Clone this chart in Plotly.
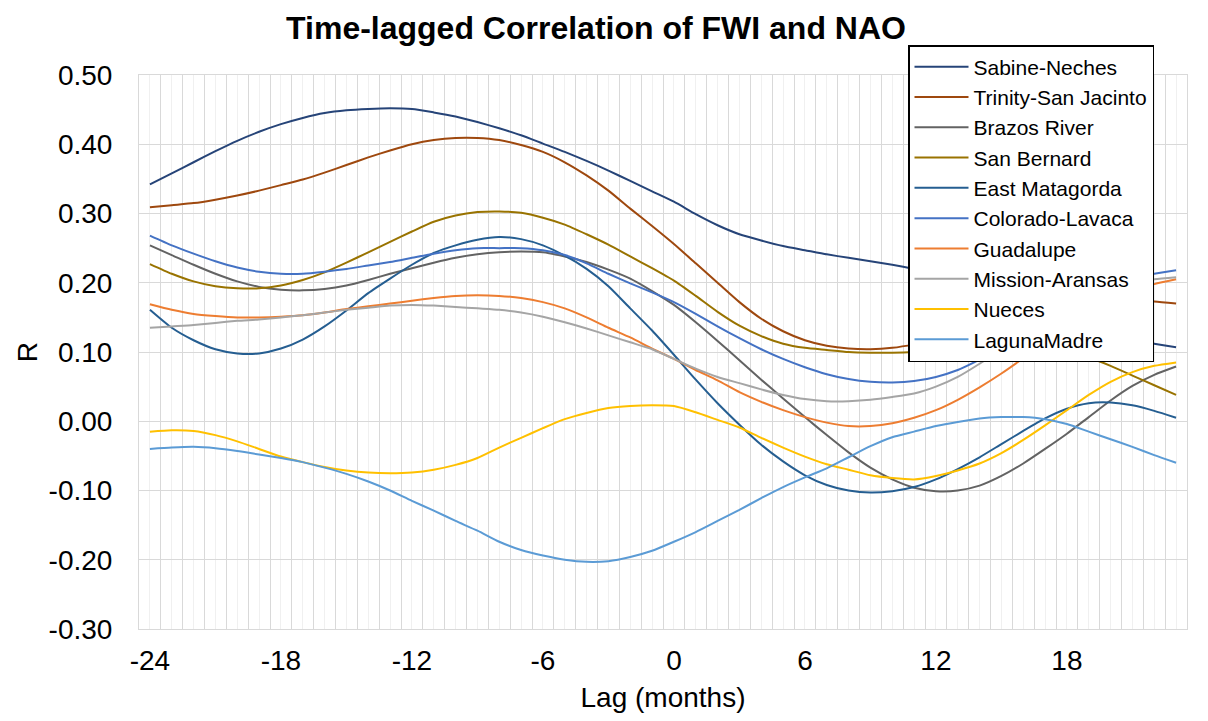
import plotly.graph_objects as go

lags = list(range(-24, 24))
tick_lags = [-24, -18, -12, -6, 0, 6, 12, 18]
r_ticks = [-0.30, -0.20, -0.10, 0.00, 0.10, 0.20, 0.30, 0.40, 0.50]

series_names = ["Sabine-Neches", "Trinity-San Jacinto", "Brazos River", "San Bernard",
                "East Matagorda", "Colorado-Lavaca", "Guadalupe", "Mission-Aransas",
                "Nueces", "LagunaMadre"]

sabine_neches = [.342, .358, .374, .390, .405, .418, .429, .438, .445, .449, .451, .452,
                 .451, .446, .440, .432, .423, .413, .401, .389, .376, .362, .347, .332,
                 .317, .299, .283, .270, .261, .253, .247, .241, .236, .231, .226, .220,
                 .213, .205, .196, .186, .175, .163, .151, .139, .128, .119, .112, .107]
trinity_san_jacinto = [.309, .312, .315, .320, .326, .333, .341, .349, .359, .370, .381, .391,
                       .400, .406, .409, .409, .406, .399, .389, .374, .355, .333, .307, .282,
                       .256, .228, .200, .172, .148, .130, .117, .109, .105, .104, .106, .111,
                       .118, .126, .134, .142, .150, .158, .165, .170, .173, .174, .173, .170]
brazos_river = [.254, .240, .226, .213, .202, .194, .190, .189, .191, .196, .204, .213,
                .221, .229, .236, .241, .244, .245, .244, .238, .230, .219, .206, .188,
                .168, .143, .116, .088, .060, .033, .006, -.020, -.045, -.067, -.084, -.096,
                -.101, -.100, -.093, -.079, -.061, -.040, -.018, .006, .030, .051, .067, .079]
san_bernard = [.227, .213, .202, .195, .192, .192, .196, .204, .215, .229, .244, .259,
               .274, .288, .297, .302, .303, .301, .294, .284, .270, .255, .238, .221,
               .203, .181, .158, .138, .123, .112, .106, .103, .100, .099, .099, .100,
               .102, .103, .105, .106, .107, .106, .100, .092, .080, .066, .052, .038]
east_matagorda = [.161, .135, .117, .104, .098, .098, .105, .118, .137, .160, .185, .206,
                  .226, .243, .254, .262, .266, .263, .254, .239, .220, .195, .163, .131,
                  .096, .060, .026, -.005, -.034, -.058, -.078, -.092, -.100, -.103, -.101, -.095,
                  -.084, -.069, -.052, -.033, -.014, .004, .018, .026, .027, .023, .015, .005]
colorado_lavaca = [.268, .254, .242, .231, .222, .216, .213, .213, .216, .220, .225, .230,
                   .236, .242, .247, .250, .250, .250, .247, .240, .228, .213, .199, .186,
                   .172, .155, .137, .120, .104, .090, .078, .068, .061, .057, .056, .058,
                   .064, .074, .089, .106, .125, .144, .163, .180, .194, .205, .213, .218]
guadalupe = [.169, .161, .155, .152, .150, .150, .151, .153, .157, .162, .166, .170,
             .174, .178, .181, .182, .181, .178, .172, .163, .150, .135, .121, .105,
             .090, .074, .059, .042, .028, .016, .006, -.002, -.007, -.007, -.003, .005,
             .016, .031, .049, .069, .091, .114, .136, .156, .174, .188, .198, .205]
mission_aransas = [.135, .137, .139, .142, .145, .147, .150, .153, .157, .161, .164, .167,
                   .168, .167, .165, .163, .161, .157, .151, .143, .134, .124, .114, .104,
                   .090, .076, .064, .055, .046, .038, .032, .029, .029, .031, .035, .040,
                   .050, .064, .083, .104, .126, .145, .163, .178, .190, .199, .205, .208]
nueces = [-.015, -.013, -.014, -.020, -.029, -.040, -.051, -.059, -.066, -.071, -.074, -.075,
          -.074, -.070, -.063, -.053, -.038, -.024, -.010, .003, .012, .019, .022, .023,
          .022, .013, .002, -.009, -.024, -.038, -.051, -.062, -.070, -.078, -.082, -.084,
          -.079, -.071, -.061, -.046, -.027, -.006, .016, .038, .057, .071, .080, .085]
laguna_madre = [-.040, -.038, -.037, -.039, -.043, -.048, -.053, -.059, -.067, -.076, -.087, -.100,
                -.115, -.129, -.144, -.158, -.174, -.186, -.194, -.200, -.203, -.202, -.196, -.187,
                -.174, -.160, -.144, -.128, -.111, -.095, -.081, -.068, -.052, -.036, -.023, -.015,
                -.007, -.001, .004, .006, .006, .003, -.004, -.015, -.026, -.037, -.049, -.060]

series_values = [sabine_neches, trinity_san_jacinto, brazos_river, san_bernard, east_matagorda,
                 colorado_lavaca, guadalupe, mission_aransas, nueces, laguna_madre]
colors = ["#264478", "#9E480E", "#636363", "#997300", "#255E91",
          "#4472C4", "#ED7D31", "#A5A5A5", "#FFC000", "#5B9BD5"]

FONT = "Arial, Liberation Sans, sans-serif"

fig = go.Figure()
for name, vals, col in zip(series_names, series_values, colors):
    fig.add_trace(go.Scatter(x=lags, y=vals, name=name, mode="lines",
                             line=dict(color=col, width=2, shape="spline", smoothing=0.6)))

# helper trace for the labelled overlay axis
fig.add_trace(go.Scatter(x=[lags[0]], y=[None], xaxis="x2", showlegend=False,
                         hoverinfo="skip", mode="markers", marker=dict(opacity=0)))

xr = [lags[0] - 0.5, lags[-1] + 0.5]
fig.update_layout(
    width=1208, height=721,
    margin=dict(l=139, r=21, t=75, b=92),
    paper_bgcolor="white", plot_bgcolor="white",
    font=dict(family=FONT, size=28, color="black"),
    title=dict(text="<b>Time-lagged Correlation of FWI and NAO</b>",
               x=596 / 1208, xanchor="center", y=1 - 28 / 721, yanchor="middle",
               font=dict(size=32, family=FONT, color="black")),
    xaxis=dict(range=xr, tickmode="linear", tick0=xr[0], dtick=1,
               showticklabels=False, ticks="", showgrid=True, gridcolor="#d9d9d9",
               gridwidth=1, zeroline=False, showline=True, linecolor="#d9d9d9",
               mirror=True,
               minor=dict(tick0=lags[0], dtick=1, showgrid=True, gridcolor="#f0f0f0",
                          gridwidth=1, ticks="")),
    xaxis2=dict(range=xr, overlaying="x", anchor="y", side="bottom",
                tickmode="array", tickvals=tick_lags, ticktext=[str(v) for v in tick_lags],
                showgrid=False, zeroline=False, ticks="", ticklabelstandoff=12,
                tickfont=dict(size=28),
                title=dict(text="Lag (months)", font=dict(size=28), standoff=12)),
    yaxis=dict(range=[-0.3, 0.5], tickmode="array", tickvals=r_ticks,
               ticktext=[f"{v:.2f}" for v in r_ticks],
               showgrid=True, gridcolor="#d9d9d9", gridwidth=1,
               zeroline=False, ticks="", showline=True, linecolor="#d9d9d9", mirror=True,
               ticklabelstandoff=20, tickfont=dict(size=28),
               title=dict(text="R", font=dict(size=28), standoff=2)),
    legend=dict(x=(908 - 139) / 1048, xanchor="left", y=(629 - 45) / 554, yanchor="top",
                bgcolor="white", bordercolor="black", borderwidth=1.5,
                font=dict(size=21), tracegroupgap=0, itemwidth=54,
                entrywidth=226, entrywidthmode="pixels"),
)

fig.write_html("out.html")
